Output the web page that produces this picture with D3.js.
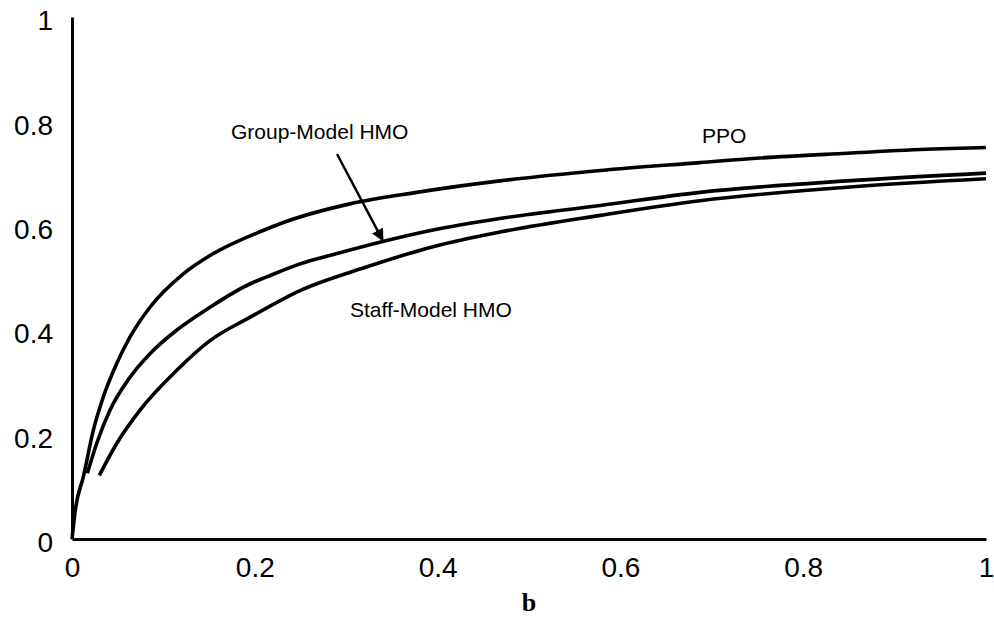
<!doctype html>
<html lang="en">
<head>
  <meta charset="utf-8">
  <title>Curves by plan type</title>
  <style>
    body { margin: 0; background: #fff; }
    svg { display: block; }
  </style>
</head>
<body>
<svg id="mysvg"></svg>
<script src="https://d3js.org/d3.v7.min.js"></script>
<script>
// values
var ppoX   = [0, 0.004, 0.0124, 0.0233, 0.0342, 0.0489, 0.0635, 0.0853, 0.1218, 0.151, 0.209, 0.2276, 0.304, 0.377, 0.468, 0.578, 0.687, 0.753, 0.848, 0.942, 1.0];
var ppoY   = [0, 0.06, 0.119, 0.208, 0.272, 0.336, 0.387, 0.444, 0.508, 0.543, 0.591, 0.604, 0.642, 0.664, 0.686, 0.706, 0.721, 0.730, 0.739, 0.747, 0.750];
var groupX = [0.0168, 0.027, 0.0416, 0.0635, 0.0853, 0.1145, 0.151, 0.195, 0.213, 0.2495, 0.286, 0.340, 0.395, 0.468, 0.578, 0.687, 0.848, 1.0];
var groupY = [0.126, 0.183, 0.247, 0.310, 0.355, 0.400, 0.444, 0.489, 0.502, 0.527, 0.545, 0.570, 0.592, 0.614, 0.639, 0.664, 0.686, 0.701];
var staffX = [0.0299, 0.0489, 0.0744, 0.1145, 0.151, 0.195, 0.2495, 0.322, 0.395, 0.468, 0.578, 0.687, 0.848, 1.0];
var staffY = [0.122, 0.183, 0.247, 0.323, 0.380, 0.425, 0.476, 0.521, 0.560, 0.588, 0.620, 0.648, 0.674, 0.690];
var xTicks = [0, 0.2, 0.4, 0.6, 0.8, 1];
var yTicks = [0, 0.2, 0.4, 0.6, 0.8, 1];

var width = 994;
var height = 625;
var svg = d3.select("#mysvg")
  .attr("width", width)
  .attr("height", height);

var x = d3.scaleLinear().domain([0, 1]).range([72, 986]);
var y = d3.scaleLinear().domain([0, 1]).range([539, 17]);

var pairs = function(xs, ys) {
  return xs.map(function(d, i) { return [d, ys[i]]; });
};

var line = d3.line()
  .x(function(d) { return x(d[0]); })
  .y(function(d) { return y(d[1]); })
  .curve(d3.curveMonotoneX);

// axes, no tick marks
var xAxis = svg.append("g")
  .attr("transform", "translate(0," + y(0) + ")")
  .call(d3.axisBottom(x).tickValues(xTicks).tickSize(0).tickPadding(10).tickFormat(d3.format("")));
var yAxis = svg.append("g")
  .attr("transform", "translate(" + x(0) + ",0)")
  .call(d3.axisLeft(y).tickValues(yTicks).tickSize(0).tickPadding(19).tickFormat(d3.format("")));

[xAxis, yAxis].forEach(function(g) {
  g.select(".domain").attr("stroke", "#000").attr("stroke-width", 3);
  g.selectAll("text")
    .attr("fill", "#000")
    .style("font-family", "'Liberation Sans', Arial, sans-serif")
    .style("font-size", "28px");
});
yAxis.selectAll("text").attr("dy", "0.45em");
xAxis.selectAll("text").attr("dy", "1.0em");

svg.append("text")
  .attr("x", (x(0) + x(1)) / 2)
  .attr("y", 611)
  .attr("text-anchor", "middle")
  .style("font-family", "'Liberation Serif', 'Times New Roman', serif")
  .style("font-weight", "bold")
  .style("font-size", "26px")
  .text("b");

// the three curves
[pairs(ppoX, ppoY), pairs(groupX, groupY), pairs(staffX, staffY)].forEach(function(d) {
  svg.append("path").datum(d)
    .attr("d", line)
    .style("fill", "none")
    .style("stroke", "#000")
    .style("stroke-width", 3.6)
    .style("stroke-linejoin", "round");
});

// labels
var labelFont = "'Liberation Sans', Arial, sans-serif";
svg.append("text").attr("x", 702).attr("y", 143)
  .style("font-family", labelFont).style("font-size", "21px").text("PPO");
svg.append("text").attr("x", 231).attr("y", 139)
  .style("font-family", labelFont).style("font-size", "21px").text("Group-Model HMO");
svg.append("text").attr("x", 350).attr("y", 317)
  .style("font-family", labelFont).style("font-size", "21px").text("Staff-Model HMO");

// arrow pointing at the group curve
svg.append("defs").append("marker")
  .attr("id", "head")
  .attr("viewBox", "0 0 10 10")
  .attr("refX", 9).attr("refY", 5)
  .attr("markerWidth", 5).attr("markerHeight", 5)
  .attr("orient", "auto")
  .append("path").attr("d", "M0,0L10,5L0,10z").attr("fill", "#000");

svg.append("line")
  .attr("x1", 337).attr("y1", 154)
  .attr("x2", x(0.340)).attr("y2", y(0.572))
  .attr("stroke", "#000")
  .attr("stroke-width", 2.5)
  .attr("marker-end", "url(#head)");
</script>
</body>
</html>
